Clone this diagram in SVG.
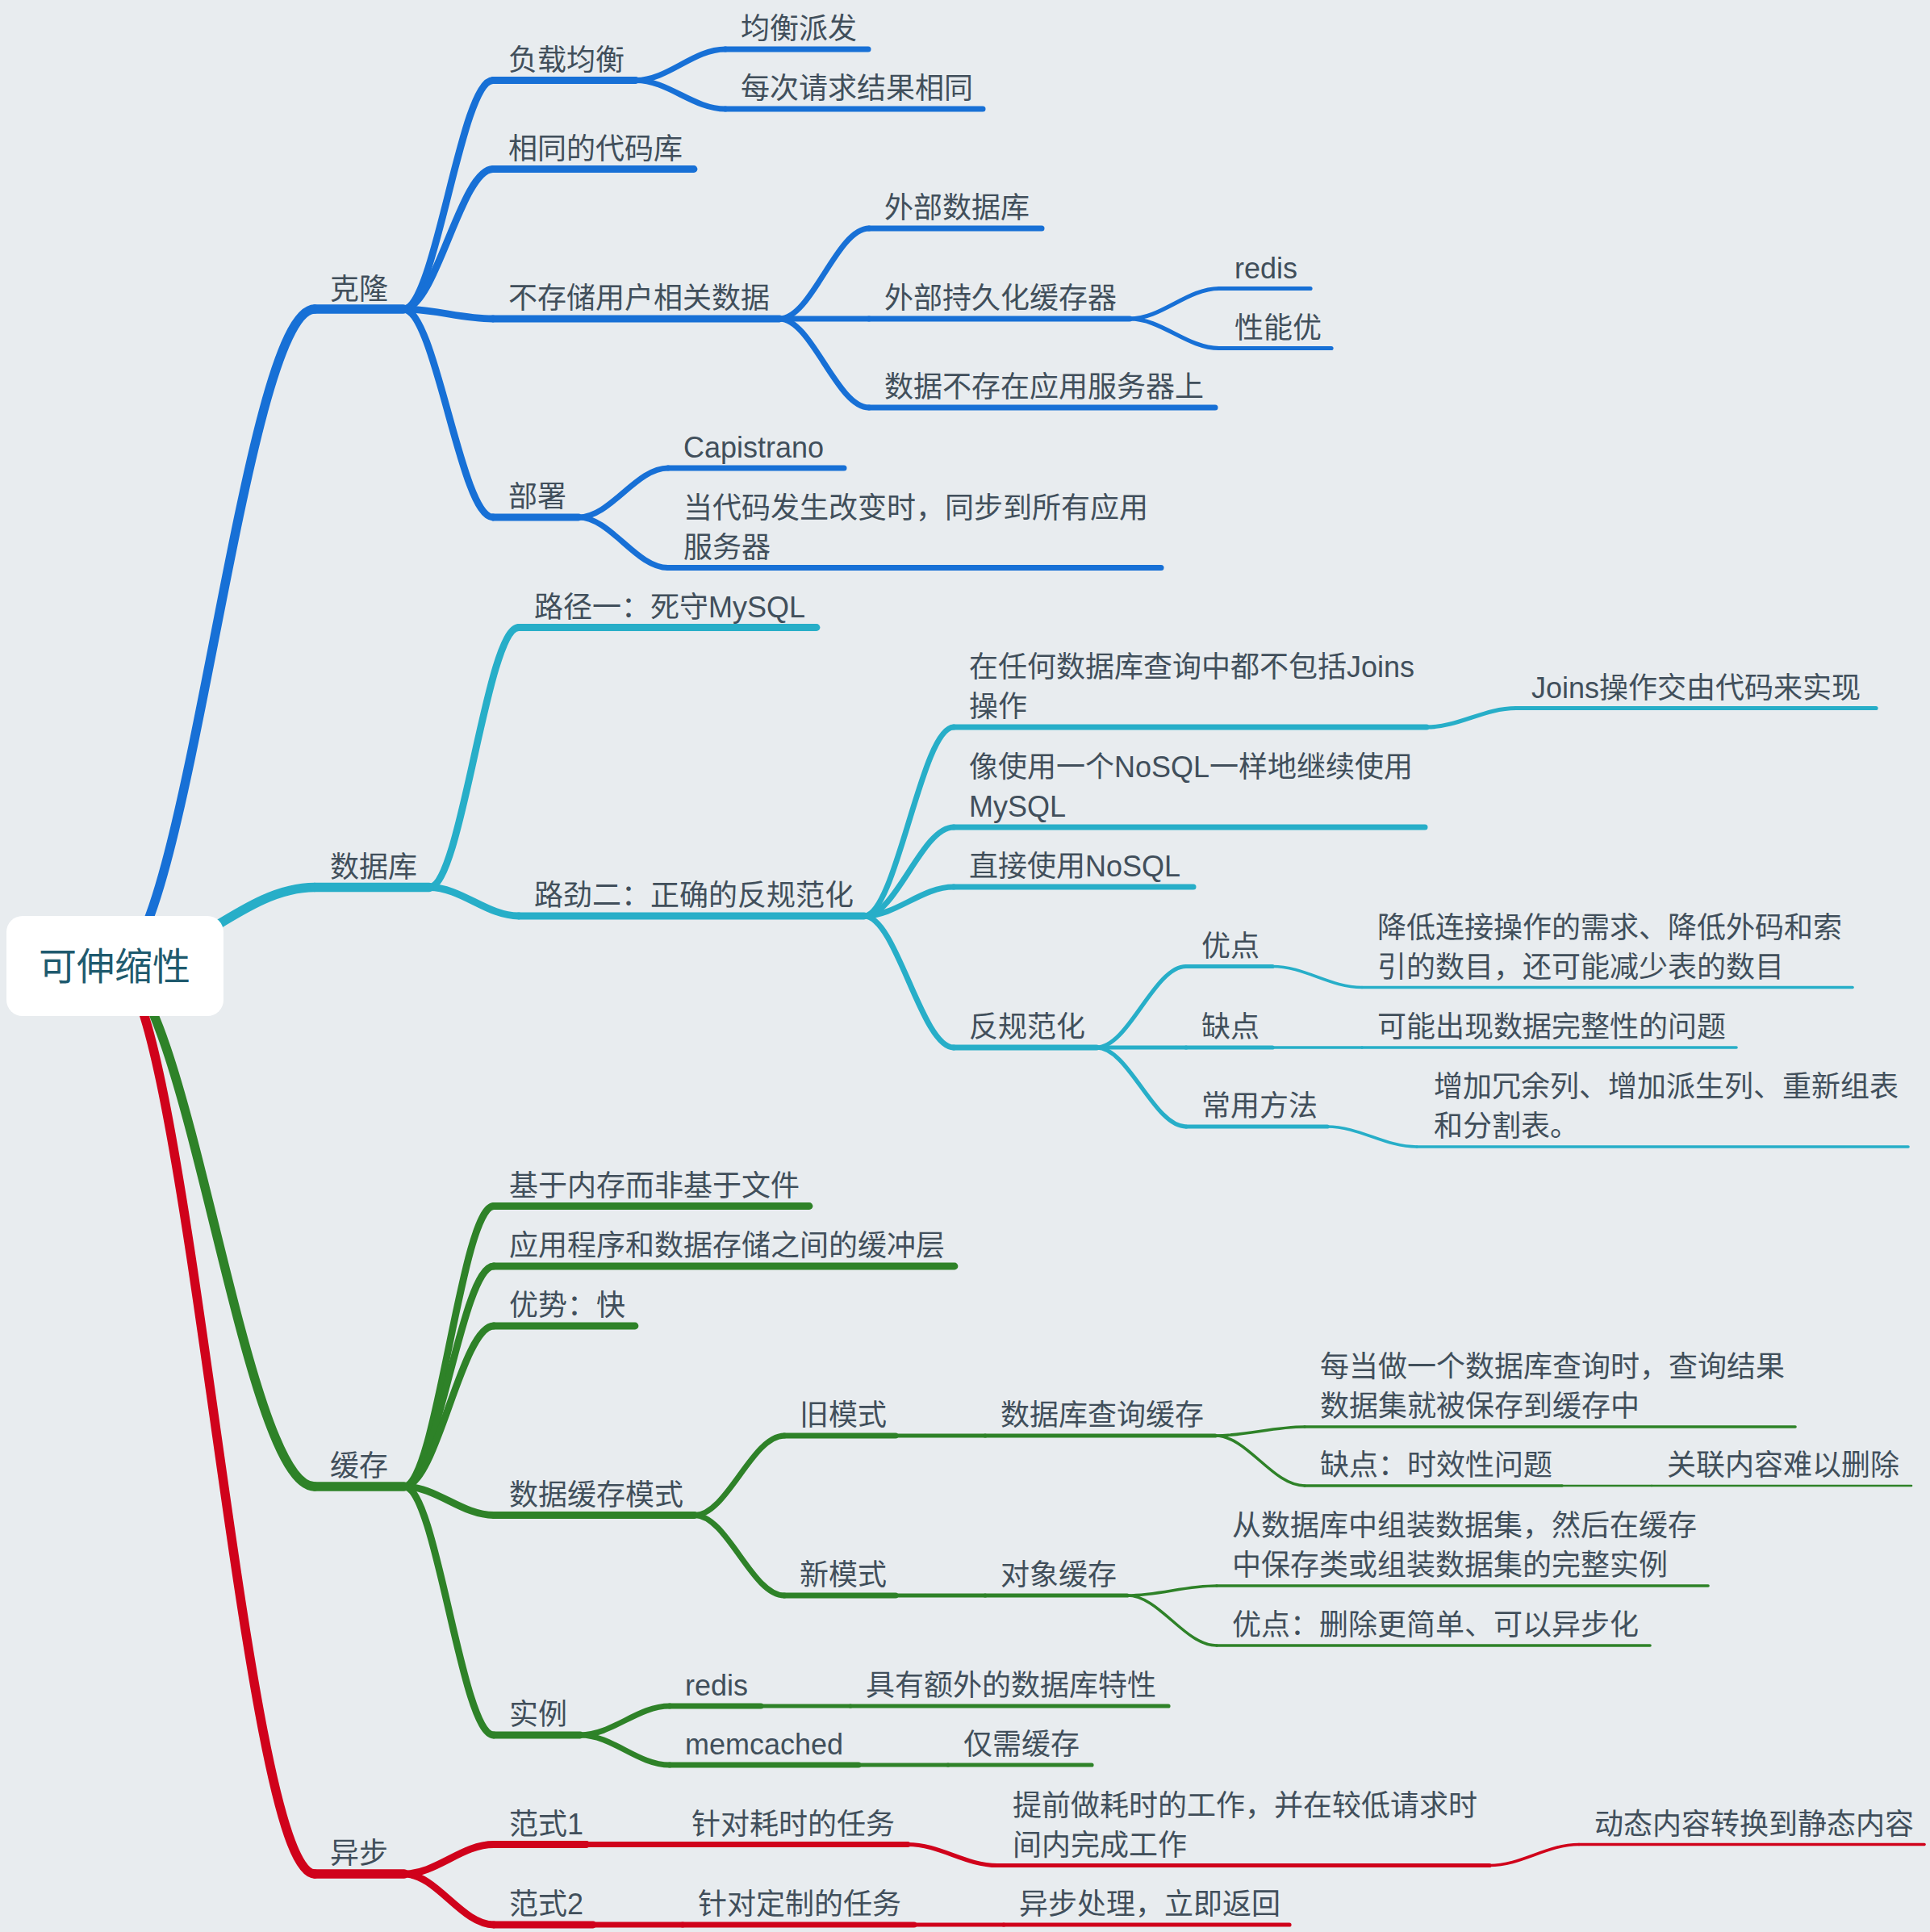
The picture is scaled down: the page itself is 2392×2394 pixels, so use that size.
<svg xmlns="http://www.w3.org/2000/svg" width="2392" height="2394" viewBox="0 0 2392 2394">
<style>
path,line{fill:none;stroke-linecap:round}
.b{stroke:#1770D6}.t{stroke:#27AEC8}.g{stroke:#2E8228}.r{stroke:#D0021B}
.w1{stroke-width:11.5}.w2{stroke-width:8.8}.w3{stroke-width:7}.w4{stroke-width:5.2}.w5{stroke-width:3.6}.w6{stroke-width:2.6}
text{font-family:"Liberation Sans","Noto Sans CJK SC",sans-serif;font-size:36px;fill:#414F5B;transform:translateY(1.5px)}
.root{font-size:47px;fill:#1F5A6E;text-anchor:middle;transform:none}
</style>
<rect width="2392" height="2394" fill="#E8ECEF"/>
<g id="connectors">
<path class="b w1" d="M142 1197 C231 1197 301 383 390 383"/>
<path class="b w2" d="M500 383 C540 383 571 99.5 611 99.5"/>
<path class="b w3" d="M788 99.5 C828 99.5 859 61 899 61"/>
<path class="b w3" d="M788 99.5 C828 99.5 859 135 899 135"/>
<path class="b w2" d="M500 383 C540 383 571 209.5 611 209.5"/>
<path class="b w2" d="M500 383 C540 383 571 395 611 395"/>
<path class="b w3" d="M966 395 C1006 395 1037 283 1077 283"/>
<path class="b w3" d="M966 395 L1077 395"/>
<path class="b w4" d="M1400 395 C1440 395 1471 357.5 1511 357.5"/>
<path class="b w4" d="M1400 395 C1440 395 1471 431.5 1511 431.5"/>
<path class="b w3" d="M966 395 C1006 395 1037 505 1077 505"/>
<path class="b w2" d="M500 383 C540 383 571 641 611 641"/>
<path class="b w3" d="M717 641 C757 641 788 580 828 580"/>
<path class="b w3" d="M717 641 C757 641 788 703.5 828 703.5"/>
<path class="t w1" d="M142 1197 C231 1197 301 1099.5 390 1099.5"/>
<path class="t w2" d="M532 1099.5 C572 1099.5 603 777.5 643 777.5"/>
<path class="t w2" d="M532 1099.5 C572 1099.5 603 1135 643 1135"/>
<path class="t w3" d="M1071 1135 C1111 1135 1142 901 1182 901"/>
<path class="t w4" d="M1768 901 C1808 901 1839 877.5 1879 877.5"/>
<path class="t w3" d="M1071 1135 C1111 1135 1142 1025 1182 1025"/>
<path class="t w3" d="M1071 1135 C1111 1135 1142 1099 1182 1099"/>
<path class="t w3" d="M1071 1135 C1111 1135 1142 1298 1182 1298"/>
<path class="t w4" d="M1359 1298 C1399 1298 1430 1197.5 1470 1197.5"/>
<path class="t w5" d="M1577 1197.5 C1617 1197.5 1648 1223.5 1688 1223.5"/>
<path class="t w4" d="M1359 1298 L1470 1298"/>
<path class="t w5" d="M1577 1298 L1688 1298"/>
<path class="t w4" d="M1359 1298 C1399 1298 1430 1396 1470 1396"/>
<path class="t w5" d="M1645 1396 C1685 1396 1716 1421 1756 1421"/>
<path class="g w1" d="M142 1197 C231 1197 301 1842 390 1842"/>
<path class="g w2" d="M501 1842 C541 1842 572 1494.5 612 1494.5"/>
<path class="g w2" d="M501 1842 C541 1842 572 1569 612 1569"/>
<path class="g w2" d="M501 1842 C541 1842 572 1643 612 1643"/>
<path class="g w2" d="M501 1842 C541 1842 572 1877.5 612 1877.5"/>
<path class="g w3" d="M861 1877.5 C901 1877.5 932 1779 972 1779"/>
<path class="g w4" d="M1110 1779 L1221 1779"/>
<path class="g w5" d="M1506 1779 C1546 1779 1577 1768 1617 1768"/>
<path class="g w5" d="M1506 1779 C1546 1779 1577 1841 1617 1841"/>
<path class="g w6" d="M1936 1841 L2047 1841"/>
<path class="g w3" d="M861 1877.5 C901 1877.5 932 1977 972 1977"/>
<path class="g w4" d="M1110 1977 L1221 1977"/>
<path class="g w5" d="M1397 1977 C1437 1977 1468 1965 1508 1965"/>
<path class="g w5" d="M1397 1977 C1437 1977 1468 2039 1508 2039"/>
<path class="g w2" d="M501 1842 C541 1842 572 2150 612 2150"/>
<path class="g w3" d="M719 2150 C759 2150 790 2114 830 2114"/>
<path class="g w4" d="M943 2114 L1054 2114"/>
<path class="g w3" d="M719 2150 C759 2150 790 2187 830 2187"/>
<path class="g w4" d="M1064 2187 L1175 2187"/>
<path class="r w1" d="M142 1197 C231 1197 301 2322 390 2322"/>
<path class="r w2" d="M501 2322 C541 2322 572 2285.5 612 2285.5"/>
<path class="r w3" d="M727 2285.5 L838 2285.5"/>
<path class="r w4" d="M1125 2285.5 C1165 2285.5 1196 2311.5 1236 2311.5"/>
<path class="r w5" d="M1846 2311.5 C1886 2311.5 1917 2285.5 1957 2285.5"/>
<path class="r w2" d="M501 2322 C541 2322 572 2385 612 2385"/>
<path class="r w3" d="M735 2385 L846 2385"/>
<path class="r w4" d="M1133 2385 L1244 2385"/>
</g>
<g id="root">
<rect x="8" y="1135" width="269" height="124" rx="20" fill="#FFFFFF"/>
<text class="root" x="142" y="1214">可伸缩性</text>
</g>
<g id="n-kelong"><path class="b w1" d="M390 383 L500 383"/><text x="409" y="369">克隆</text></g>
<g id="n-fuzai"><path class="b w2" d="M611 99.5 L788 99.5"/><text x="630" y="85">负载均衡</text></g>
<g id="n-junheng"><path class="b w3" d="M899 61 L1076 61"/><text x="918" y="46.5">均衡派发</text></g>
<g id="n-meici"><path class="b w3" d="M899 135 L1218 135"/><text x="918" y="120.5">每次请求结果相同</text></g>
<g id="n-xiangtong"><path class="b w2" d="M611 209.5 L860 209.5"/><text x="630" y="195">相同的代码库</text></g>
<g id="n-bucun"><path class="b w2" d="M611 395 L966 395"/><text x="630" y="380.5">不存储用户相关数据</text></g>
<g id="n-waibushuju"><path class="b w3" d="M1077 283 L1291 283"/><text x="1096" y="268.5">外部数据库</text></g>
<g id="n-chijiuhua"><path class="b w3" d="M1077 395 L1400 395"/><text x="1096" y="380.5">外部持久化缓存器</text></g>
<g id="n-redis1"><path class="b w4" d="M1511 357.5 L1624 357.5"/><text x="1530" y="343">redis</text></g>
<g id="n-xingneng"><path class="b w4" d="M1511 431.5 L1650 431.5"/><text x="1530" y="417">性能优</text></g>
<g id="n-bucunzai"><path class="b w3" d="M1077 505 L1506 505"/><text x="1096" y="490.5">数据不存在应用服务器上</text></g>
<g id="n-bushu"><path class="b w2" d="M611 641 L717 641"/><text x="630" y="626.5">部署</text></g>
<g id="n-capistrano"><path class="b w3" d="M828 580 L1046 580"/><text x="847" y="565.5">Capistrano</text></g>
<g id="n-tongbu"><path class="b w3" d="M828 703.5 L1439 703.5"/><text x="847" y="640">当代码发生改变时，同步到所有应用</text><text x="847" y="689">服务器</text></g>
<g id="n-shujuku"><path class="t w1" d="M390 1099.5 L532 1099.5"/><text x="409" y="1085">数据库</text></g>
<g id="n-lujing1"><path class="t w2" d="M643 777.5 L1012 777.5"/><text x="662" y="763">路径一：死守MySQL</text></g>
<g id="n-lujing2"><path class="t w2" d="M643 1135 L1071 1135"/><text x="662" y="1120.5">路劲二：正确的反规范化</text></g>
<g id="n-joins"><path class="t w3" d="M1182 901 L1768 901"/><text x="1201" y="837.5">在任何数据库查询中都不包括Joins</text><text x="1201" y="886.5">操作</text></g>
<g id="n-joinscode"><path class="t w4" d="M1879 877.5 L2325 877.5"/><text x="1898" y="863">Joins操作交由代码来实现</text></g>
<g id="n-nosqlmysql"><path class="t w3" d="M1182 1025 L1766 1025"/><text x="1201" y="961.5">像使用一个NoSQL一样地继续使用</text><text x="1201" y="1010.5">MySQL</text></g>
<g id="n-nosql"><path class="t w3" d="M1182 1099 L1479 1099"/><text x="1201" y="1084.5">直接使用NoSQL</text></g>
<g id="n-fanguifan"><path class="t w3" d="M1182 1298 L1359 1298"/><text x="1201" y="1283.5">反规范化</text></g>
<g id="n-youdian"><path class="t w4" d="M1470 1197.5 L1577 1197.5"/><text x="1489" y="1183">优点</text></g>
<g id="n-jiangdi"><path class="t w5" d="M1688 1223.5 L2296 1223.5"/><text x="1707" y="1160">降低连接操作的需求、降低外码和索</text><text x="1707" y="1209">引的数目，还可能减少表的数目</text></g>
<g id="n-quedian"><path class="t w4" d="M1470 1298 L1577 1298"/><text x="1489" y="1283.5">缺点</text></g>
<g id="n-wanzheng"><path class="t w5" d="M1688 1298 L2152 1298"/><text x="1707" y="1283.5">可能出现数据完整性的问题</text></g>
<g id="n-changyong"><path class="t w4" d="M1470 1396 L1645 1396"/><text x="1489" y="1381.5">常用方法</text></g>
<g id="n-zengjia"><path class="t w5" d="M1756 1421 L2365 1421"/><text x="1777" y="1357">增加冗余列、增加派生列、重新组表</text><text x="1777" y="1406">和分割表。</text></g>
<g id="n-huancun"><path class="g w1" d="M390 1842 L501 1842"/><text x="409" y="1827.5">缓存</text></g>
<g id="n-neicun"><path class="g w2" d="M612 1494.5 L1003 1494.5"/><text x="631" y="1480">基于内存而非基于文件</text></g>
<g id="n-huanchongceng"><path class="g w2" d="M612 1569 L1183 1569"/><text x="631" y="1554.5">应用程序和数据存储之间的缓冲层</text></g>
<g id="n-youshi"><path class="g w2" d="M612 1643 L787 1643"/><text x="631" y="1628.5">优势：快</text></g>
<g id="n-moshi"><path class="g w2" d="M612 1877.5 L861 1877.5"/><text x="631" y="1863">数据缓存模式</text></g>
<g id="n-jiumoshi"><path class="g w3" d="M972 1779 L1110 1779"/><text x="991" y="1764.5">旧模式</text></g>
<g id="n-chaxun"><path class="g w4" d="M1221 1779 L1506 1779"/><text x="1240" y="1764.5">数据库查询缓存</text></g>
<g id="n-meidang"><path class="g w5" d="M1617 1768 L2225 1768"/><text x="1636" y="1704.5">每当做一个数据库查询时，查询结果</text><text x="1636" y="1753.5">数据集就被保存到缓存中</text></g>
<g id="n-shixiao"><path class="g w5" d="M1617 1841 L1936 1841"/><text x="1636" y="1826.5">缺点：时效性问题</text></g>
<g id="n-guanlian"><path class="g w6" d="M2047 1841 L2369 1841"/><text x="2066" y="1826.5">关联内容难以删除</text></g>
<g id="n-xinmoshi"><path class="g w3" d="M972 1977 L1110 1977"/><text x="991" y="1962.5">新模式</text></g>
<g id="n-duixiang"><path class="g w4" d="M1221 1977 L1397 1977"/><text x="1240" y="1962.5">对象缓存</text></g>
<g id="n-zuzhuang"><path class="g w5" d="M1508 1965 L2117 1965"/><text x="1527" y="1901.5">从数据库中组装数据集，然后在缓存</text><text x="1527" y="1950.5">中保存类或组装数据集的完整实例</text></g>
<g id="n-shanchu"><path class="g w5" d="M1508 2039 L2045 2039"/><text x="1527" y="2024.5">优点：删除更简单、可以异步化</text></g>
<g id="n-shili"><path class="g w2" d="M612 2150 L719 2150"/><text x="631" y="2135.5">实例</text></g>
<g id="n-redis2"><path class="g w3" d="M830 2114 L943 2114"/><text x="849" y="2099.5">redis</text></g>
<g id="n-texing"><path class="g w4" d="M1054 2114 L1448 2114"/><text x="1073" y="2099.5">具有额外的数据库特性</text></g>
<g id="n-memcached"><path class="g w3" d="M830 2187 L1064 2187"/><text x="849" y="2172.5">memcached</text></g>
<g id="n-jinxu"><path class="g w4" d="M1175 2187 L1353 2187"/><text x="1194" y="2172.5">仅需缓存</text></g>
<g id="n-yibu"><path class="r w1" d="M390 2322 L501 2322"/><text x="409" y="2307.5">异步</text></g>
<g id="n-fanshi1"><path class="r w2" d="M612 2285.5 L727 2285.5"/><text x="631" y="2271">范式1</text></g>
<g id="n-haoshi"><path class="r w3" d="M838 2285.5 L1125 2285.5"/><text x="857" y="2271">针对耗时的任务</text></g>
<g id="n-tiqian"><path class="r w4" d="M1236 2311.5 L1846 2311.5"/><text x="1255" y="2248">提前做耗时的工作，并在较低请求时</text><text x="1255" y="2297">间内完成工作</text></g>
<g id="n-dongtai"><path class="r w5" d="M1957 2285.5 L2385 2285.5"/><text x="1976" y="2271">动态内容转换到静态内容</text></g>
<g id="n-fanshi2"><path class="r w2" d="M612 2385 L735 2385"/><text x="631" y="2370.5">范式2</text></g>
<g id="n-dingzhi"><path class="r w3" d="M846 2385 L1133 2385"/><text x="865" y="2370.5">针对定制的任务</text></g>
<g id="n-fanhui"><path class="r w4" d="M1244 2385 L1598 2385"/><text x="1263" y="2370.5">异步处理，立即返回</text></g>
</svg>
